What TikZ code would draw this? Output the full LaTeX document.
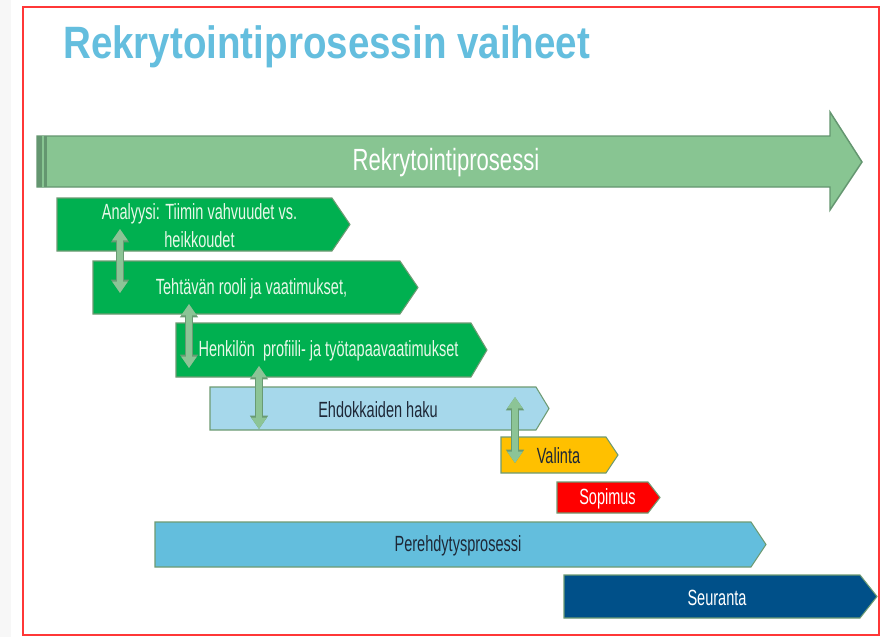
\documentclass[tikz,border=0pt]{standalone}
\usepackage{fontspec}
\usepackage{graphicx}
\setmainfont{Liberation Sans}
\usetikzlibrary{arrows.meta}
\definecolor{titleblue}{RGB}{100,190,222}
\definecolor{bigfill}{RGB}{136,197,146}
\definecolor{bigedge}{RGB}{100,150,112}
\definecolor{boxgreen}{RGB}{0,176,80}
\definecolor{boxedge}{RGB}{110,155,115}
\definecolor{lightblue}{RGB}{166,216,235}
\definecolor{amber}{RGB}{255,192,0}
\definecolor{sred}{RGB}{255,0,0}
\definecolor{midblue}{RGB}{99,190,221}
\definecolor{darkblue}{RGB}{0,80,137}
\definecolor{dblgreen}{RGB}{140,196,150}
\definecolor{dbledge}{RGB}{105,155,115}
\definecolor{txtlight}{RGB}{232,248,232}
\definecolor{txtdark}{RGB}{30,40,55}
\definecolor{frame}{RGB}{255,55,55}
\newcommand\nar[1]{\scalebox{0.66}[1]{#1}}
\newcommand\chev[9]{%
  \path[fill=#2,draw=boxedge,line width=0.8pt] (#4,#5) -- (#6,#5) -- (#8,{(#5+#7)/2}) -- (#6,#7) -- (#4,#7) -- cycle;
  \node[boxtxt,text=#3] (#1) at ({(#4+#6)/2+5},{(#5+#7)/2+1}) {#9};}
\tikzset{
  boxtxt/.style={inner sep=0pt,align=center,font=\fontsize{16.5}{21}\selectfont},
  dbl/.style={draw=dblgreen,line width=4.6pt,{Triangle[width=11pt,length=8.5pt]}-{Triangle[width=11pt,length=8.5pt]},
    preaction={draw=dbledge,line width=6pt,{Triangle[width=13pt,length=10pt]}-{Triangle[width=13pt,length=10pt]}}},
}
\begin{document}
\begin{tikzpicture}[x=0.75pt,y=-0.75pt]
\useasboundingbox (0,0) rectangle (884,637);
\fill[white] (0,0) rectangle (884,637);
\fill[gray!6] (0,0) rectangle (11,637);
\draw[frame,line width=1.6pt] (23,7) rectangle (879,635);
% title
\node[anchor=base west,inner sep=0pt,text=titleblue,font=\fontsize{34}{40}\selectfont\bfseries] (title) at (63,58) {\scalebox{0.85}[1]{Rekrytointiprosessin vaiheet}};
% big arrow
\path[fill=bigfill,draw=bigedge,line width=1.1pt] (37,136) -- (830,136) -- (830,112) -- (862,162) -- (830,210) -- (830,187) -- (37,187) -- cycle;
\fill[bigedge] (37,136) rectangle (47,187);
\draw[bigfill,line width=1pt] (43,136) -- (43,187);
\node[inner sep=0pt,text=white,font=\fontsize{23}{28}\selectfont] (proc) at (446,163) {\scalebox{0.72}[1]{Rekrytointiprosessi}};
% chevrons
\chev{analyysi}{boxgreen}{txtlight}{57}{198}{332}{251}{350}{\nar{Analyysi: Tiimin vahvuudet vs.}\\\nar{heikkoudet}}
\chev{tehtava}{boxgreen}{txtlight}{93}{261}{400}{314}{418}{\nar{Tehtävän rooli ja vaatimukset,}}
\chev{henkilo}{boxgreen}{txtlight}{176}{323}{471}{377}{487}{\nar{Henkilön\ \ profiili- ja työtapaavaatimukset}}
\chev{haku}{lightblue}{txtdark}{210}{387}{536}{430}{549}{\nar{Ehdokkaiden haku}}
\chev{valinta}{amber}{txtdark}{501}{437}{606}{473}{618}{\nar{Valinta}}
\chev{sopimus}{sred}{white}{557}{482}{648}{513}{660}{\nar{Sopimus}}
\chev{pere}{midblue}{txtdark}{155}{522}{751}{567}{766}{\nar{Perehdytysprosessi}}
\chev{seur}{darkblue}{white}{564}{575}{860}{618}{877}{\nar{Seuranta}}
% double arrows
\coordinate (d1a) at (120,229); \coordinate (d1b) at (120,293);
\coordinate (d2a) at (189,304); \coordinate (d2b) at (189,368);
\coordinate (d3a) at (259,366); \coordinate (d3b) at (259,429);
\coordinate (d4a) at (515,397); \coordinate (d4b) at (515,463);
\draw[dbl] (d1a) -- (d1b);
\draw[dbl] (d2a) -- (d2b);
\draw[dbl] (d3a) -- (d3b);
\draw[dbl] (d4a) -- (d4b);
\end{tikzpicture}
\end{document}
